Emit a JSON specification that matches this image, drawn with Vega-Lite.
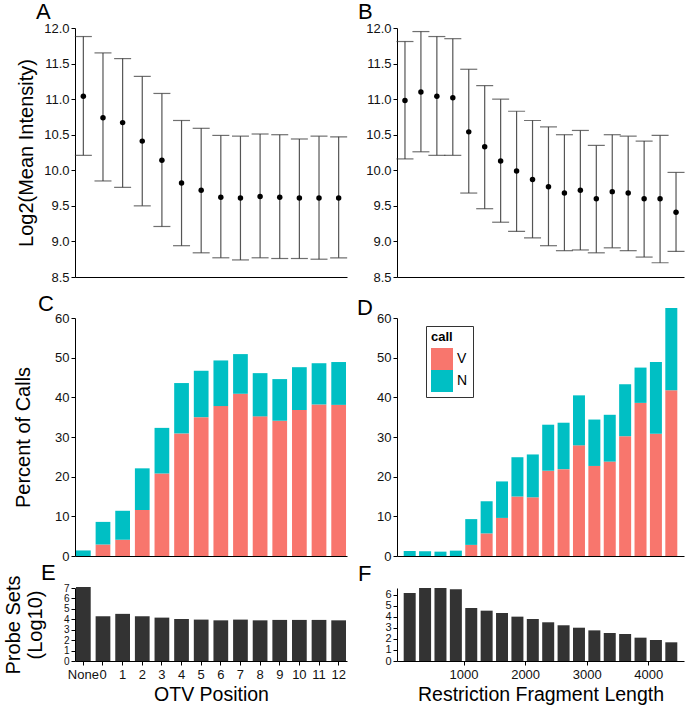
{
  "$schema": "https://vega.github.io/schema/vega-lite/v6.json",
  "padding": {"left": 3, "top": 1, "right": 1, "bottom": 5},
  "background": "white",
  "config": {
    "font": "Liberation Sans",
    "view": {"stroke": null},
    "axis": {"grid": false, "domainColor": "#000", "domainWidth": 1, "tickColor": "#000", "tickSize": 4, "labelFontSize": 13, "labelColor": "#111", "titleFontSize": 20, "titleFontWeight": "normal", "titleColor": "#000", "labelPadding": 2, "labelFlush": false, "labelOverlap": false},
    "title": {"fontSize": 22, "fontWeight": "normal", "anchor": "start", "frame": "group", "color": "#000"}
  },
  "datasets": {
    "A": [
      {"pos": "None", "mean": 11.04, "lo": 10.21, "hi": 11.88},
      {"pos": "0", "mean": 10.74, "lo": 9.85, "hi": 11.65},
      {"pos": "1", "mean": 10.67, "lo": 9.76, "hi": 11.57},
      {"pos": "2", "mean": 10.41, "lo": 9.50, "hi": 11.32},
      {"pos": "3", "mean": 10.14, "lo": 9.21, "hi": 11.08},
      {"pos": "4", "mean": 9.82, "lo": 8.94, "hi": 10.70},
      {"pos": "5", "mean": 9.72, "lo": 8.84, "hi": 10.59},
      {"pos": "6", "mean": 9.62, "lo": 8.77, "hi": 10.49},
      {"pos": "7", "mean": 9.61, "lo": 8.74, "hi": 10.48},
      {"pos": "8", "mean": 9.63, "lo": 8.77, "hi": 10.51},
      {"pos": "9", "mean": 9.62, "lo": 8.76, "hi": 10.50},
      {"pos": "10", "mean": 9.61, "lo": 8.76, "hi": 10.44},
      {"pos": "11", "mean": 9.61, "lo": 8.75, "hi": 10.48},
      {"pos": "12", "mean": 9.61, "lo": 8.77, "hi": 10.47}
    ],
    "B": [
      {"len": 125, "mean": 10.98, "lo": 10.16, "hi": 11.81},
      {"len": 375, "mean": 11.10, "lo": 10.26, "hi": 11.95},
      {"len": 625, "mean": 11.04, "lo": 10.21, "hi": 11.88},
      {"len": 875, "mean": 11.02, "lo": 10.21, "hi": 11.85},
      {"len": 1125, "mean": 10.54, "lo": 9.68, "hi": 11.42},
      {"len": 1375, "mean": 10.33, "lo": 9.46, "hi": 11.19},
      {"len": 1625, "mean": 10.13, "lo": 9.27, "hi": 11.00},
      {"len": 1875, "mean": 9.99, "lo": 9.14, "hi": 10.83},
      {"len": 2125, "mean": 9.87, "lo": 9.05, "hi": 10.70},
      {"len": 2375, "mean": 9.77, "lo": 8.94, "hi": 10.61},
      {"len": 2625, "mean": 9.68, "lo": 8.87, "hi": 10.50},
      {"len": 2875, "mean": 9.72, "lo": 8.88, "hi": 10.56},
      {"len": 3125, "mean": 9.60, "lo": 8.84, "hi": 10.35},
      {"len": 3375, "mean": 9.70, "lo": 8.91, "hi": 10.50},
      {"len": 3625, "mean": 9.68, "lo": 8.87, "hi": 10.48},
      {"len": 3875, "mean": 9.60, "lo": 8.78, "hi": 10.41},
      {"len": 4125, "mean": 9.60, "lo": 8.70, "hi": 10.49},
      {"len": 4375, "mean": 9.41, "lo": 8.86, "hi": 9.97}
    ],
    "C": [
      {"pos": "None", "call": "N", "pct": 1.4},
      {"pos": "0", "call": "V", "pct": 2.9}, {"pos": "0", "call": "N", "pct": 5.7},
      {"pos": "1", "call": "V", "pct": 4.1}, {"pos": "1", "call": "N", "pct": 7.3},
      {"pos": "2", "call": "V", "pct": 11.6}, {"pos": "2", "call": "N", "pct": 10.5},
      {"pos": "3", "call": "V", "pct": 20.8}, {"pos": "3", "call": "N", "pct": 11.5},
      {"pos": "4", "call": "V", "pct": 30.9}, {"pos": "4", "call": "N", "pct": 12.7},
      {"pos": "5", "call": "V", "pct": 35.0}, {"pos": "5", "call": "N", "pct": 11.7},
      {"pos": "6", "call": "V", "pct": 37.8}, {"pos": "6", "call": "N", "pct": 11.5},
      {"pos": "7", "call": "V", "pct": 40.9}, {"pos": "7", "call": "N", "pct": 10.0},
      {"pos": "8", "call": "V", "pct": 35.2}, {"pos": "8", "call": "N", "pct": 10.9},
      {"pos": "9", "call": "V", "pct": 34.1}, {"pos": "9", "call": "N", "pct": 10.5},
      {"pos": "10", "call": "V", "pct": 36.8}, {"pos": "10", "call": "N", "pct": 10.8},
      {"pos": "11", "call": "V", "pct": 38.2}, {"pos": "11", "call": "N", "pct": 10.4},
      {"pos": "12", "call": "V", "pct": 38.1}, {"pos": "12", "call": "N", "pct": 10.8}
    ],
    "D": [
      {"len": 125, "call": "N", "pct": 1.26},
      {"len": 375, "call": "N", "pct": 1.2},
      {"len": 625, "call": "N", "pct": 1.1},
      {"len": 875, "call": "N", "pct": 1.35},
      {"len": 1125, "call": "V", "pct": 2.8}, {"len": 1125, "call": "N", "pct": 6.5},
      {"len": 1375, "call": "V", "pct": 5.7}, {"len": 1375, "call": "N", "pct": 8.1},
      {"len": 1625, "call": "V", "pct": 9.6}, {"len": 1625, "call": "N", "pct": 9.2},
      {"len": 1875, "call": "V", "pct": 15.0}, {"len": 1875, "call": "N", "pct": 9.9},
      {"len": 2125, "call": "V", "pct": 14.8}, {"len": 2125, "call": "N", "pct": 10.8},
      {"len": 2375, "call": "V", "pct": 21.5}, {"len": 2375, "call": "N", "pct": 11.6},
      {"len": 2625, "call": "V", "pct": 21.9}, {"len": 2625, "call": "N", "pct": 11.7},
      {"len": 2875, "call": "V", "pct": 27.9}, {"len": 2875, "call": "N", "pct": 12.6},
      {"len": 3125, "call": "V", "pct": 22.7}, {"len": 3125, "call": "N", "pct": 11.7},
      {"len": 3375, "call": "V", "pct": 23.8}, {"len": 3375, "call": "N", "pct": 11.8},
      {"len": 3625, "call": "V", "pct": 30.2}, {"len": 3625, "call": "N", "pct": 13.1},
      {"len": 3875, "call": "V", "pct": 38.6}, {"len": 3875, "call": "N", "pct": 8.9},
      {"len": 4125, "call": "V", "pct": 30.8}, {"len": 4125, "call": "N", "pct": 18.1},
      {"len": 4375, "call": "V", "pct": 41.8}, {"len": 4375, "call": "N", "pct": 20.7}
    ],
    "E": [
      {"pos": "None", "log": 7.1}, {"pos": "0", "log": 4.29}, {"pos": "1", "log": 4.52},
      {"pos": "2", "log": 4.29}, {"pos": "3", "log": 4.16}, {"pos": "4", "log": 4.03},
      {"pos": "5", "log": 3.97}, {"pos": "6", "log": 3.9}, {"pos": "7", "log": 3.97},
      {"pos": "8", "log": 3.9}, {"pos": "9", "log": 3.94}, {"pos": "10", "log": 3.94},
      {"pos": "11", "log": 3.94}, {"pos": "12", "log": 3.9}
    ],
    "F": [
      {"len": 125, "log": 6.15}, {"len": 375, "log": 6.6}, {"len": 625, "log": 6.6},
      {"len": 875, "log": 6.48}, {"len": 1125, "log": 4.79}, {"len": 1375, "log": 4.55},
      {"len": 1625, "log": 4.34}, {"len": 1875, "log": 4.01}, {"len": 2125, "log": 3.8},
      {"len": 2375, "log": 3.5}, {"len": 2625, "log": 3.23}, {"len": 2875, "log": 3.01},
      {"len": 3125, "log": 2.77}, {"len": 3375, "log": 2.53}, {"len": 3625, "log": 2.44},
      {"len": 3875, "log": 2.11}, {"len": 4125, "log": 1.9}, {"len": 4375, "log": 1.69}
    ]
  },
  "columns": 2,
  "spacing": {"row": 32, "column": 50},
  "bounds": "flush",
  "align": "each",
  "resolve": {"scale": {"color": "independent"}, "legend": {"color": "independent"}},
  "concat": [
    {
      "width": 272, "height": 249,
      "title": {"text": "A", "dx": -39, "offset": -2},
      "data": {"name": "A"},
      "encoding": {
        "x": {"field": "pos", "type": "nominal", "scale": {"domain": ["None","0","1","2","3","4","5","6","7","8","9","10","11","12"], "paddingInner": 0.25, "paddingOuter": 0.05}, "axis": {"labels": false, "ticks": false, "title": null}}
      },
      "layer": [
        {"mark": {"type": "rule", "color": "#555", "strokeWidth": 1.2},
         "encoding": {"y": {"field": "lo", "type": "quantitative", "title": "Log2(Mean Intensity)", "scale": {"domain": [8.5, 12], "nice": false, "zero": false}, "axis": {"values": [8.5, 9.0, 9.5, 10.0, 10.5, 11.0, 11.5, 12.0], "format": ".1f", "titleX": -39, "labelOverlap": false}}, "y2": {"field": "hi"}}},
        {"mark": {"type": "tick", "color": "#333", "thickness": 1.2, "size": 17},
         "encoding": {"y": {"field": "lo", "type": "quantitative", "title": "Log2(Mean Intensity)", "scale": {"domain": [8.5, 12], "nice": false, "zero": false}, "axis": {"values": [8.5, 9.0, 9.5, 10.0, 10.5, 11.0, 11.5, 12.0], "format": ".1f", "titleX": -39, "labelOverlap": false}}}},
        {"mark": {"type": "tick", "color": "#333", "thickness": 1.2, "size": 17},
         "encoding": {"y": {"field": "hi", "type": "quantitative", "title": "Log2(Mean Intensity)", "scale": {"domain": [8.5, 12], "nice": false, "zero": false}, "axis": {"values": [8.5, 9.0, 9.5, 10.0, 10.5, 11.0, 11.5, 12.0], "format": ".1f", "titleX": -39, "labelOverlap": false}}}},
        {"mark": {"type": "point", "filled": true, "color": "#000", "size": 30, "opacity": 1},
         "encoding": {"y": {"field": "mean", "type": "quantitative", "title": "Log2(Mean Intensity)", "scale": {"domain": [8.5, 12], "nice": false, "zero": false}, "axis": {"values": [8.5, 9.0, 9.5, 10.0, 10.5, 11.0, 11.5, 12.0], "format": ".1f", "titleX": -39, "labelOverlap": false}}}}
      ]
    },
    {
      "width": 287, "height": 249,
      "title": {"text": "B", "dx": -39, "offset": -2},
      "data": {"name": "B"},
      "encoding": {
        "x": {"field": "len", "type": "quantitative", "scale": {"domain": [0, 4500], "nice": false, "zero": false}, "axis": {"labels": false, "ticks": false, "title": null}}
      },
      "layer": [
        {"mark": {"type": "rule", "color": "#555", "strokeWidth": 1.2},
         "encoding": {"y": {"field": "lo", "type": "quantitative", "title": null, "scale": {"domain": [8.5, 12], "nice": false, "zero": false}, "axis": {"values": [8.5, 9.0, 9.5, 10.0, 10.5, 11.0, 11.5, 12.0], "format": ".1f", "title": null, "labelOverlap": false}}, "y2": {"field": "hi"}}},
        {"mark": {"type": "tick", "color": "#333", "thickness": 1.2, "size": 17, "orient": "horizontal"},
         "encoding": {"y": {"field": "lo", "type": "quantitative", "title": null, "scale": {"domain": [8.5, 12], "nice": false, "zero": false}, "axis": {"values": [8.5, 9.0, 9.5, 10.0, 10.5, 11.0, 11.5, 12.0], "format": ".1f", "title": null, "labelOverlap": false}}}},
        {"mark": {"type": "tick", "color": "#333", "thickness": 1.2, "size": 17, "orient": "horizontal"},
         "encoding": {"y": {"field": "hi", "type": "quantitative", "title": null, "scale": {"domain": [8.5, 12], "nice": false, "zero": false}, "axis": {"values": [8.5, 9.0, 9.5, 10.0, 10.5, 11.0, 11.5, 12.0], "format": ".1f", "title": null, "labelOverlap": false}}}},
        {"mark": {"type": "point", "filled": true, "color": "#000", "size": 30, "opacity": 1},
         "encoding": {"y": {"field": "mean", "type": "quantitative", "title": null, "scale": {"domain": [8.5, 12], "nice": false, "zero": false}, "axis": {"values": [8.5, 9.0, 9.5, 10.0, 10.5, 11.0, 11.5, 12.0], "format": ".1f", "title": null, "labelOverlap": false}}}}
      ]
    },
    {
      "width": 272, "height": 247,
      "title": {"text": "C", "dx": -37, "offset": -7},
      "data": {"name": "C"},
      "mark": {"type": "bar"},
      "encoding": {
        "x": {"field": "pos", "type": "nominal", "scale": {"domain": ["None","0","1","2","3","4","5","6","7","8","9","10","11","12"], "paddingInner": 0.25, "paddingOuter": 0.05}, "axis": {"labels": false, "ticks": false, "title": null}},
        "y": {"field": "pct", "type": "quantitative", "stack": "zero", "scale": {"domain": [0, 60], "range": [247, 9], "nice": false}, "axis": {"values": [0, 10, 20, 30, 40, 50, 60], "title": "Percent of Calls", "titleX": -42}},
        "color": {"field": "call", "type": "nominal", "scale": {"domain": ["V", "N"], "range": ["#F8766D", "#00BFC4"]}, "legend": null},
        "order": {"field": "call", "sort": "descending"}
      }
    },
    {
      "width": 287, "height": 247,
      "title": {"text": "D", "dx": -40, "offset": -12},
      "data": {"name": "D"},
      "mark": {"type": "bar", "size": 12},
      "encoding": {
        "x": {"field": "len", "type": "quantitative", "scale": {"domain": [0, 4500], "nice": false, "zero": false}, "axis": {"labels": false, "ticks": false, "title": null}},
        "y": {"field": "pct", "type": "quantitative", "stack": "zero", "scale": {"domain": [0, 60], "range": [247, 9], "nice": false}, "axis": {"values": [0, 10, 20, 30, 40, 50, 60], "title": null}},
        "color": {"field": "call", "type": "nominal", "scale": {"domain": ["V", "N"], "range": ["#F8766D", "#00BFC4"]},
          "legend": {"orient": "none", "legendX": 29, "legendY": 17, "title": "call", "titleFontWeight": "bold", "titleFontSize": 13, "titleColor": "#000", "labelFontSize": 14, "labelColor": "#000", "symbolType": "square", "symbolSize": 484, "symbolStrokeWidth": 0, "symbolOpacity": 1, "rowPadding": 0, "strokeColor": "#333", "padding": 5, "titlePadding": 4, "labelOffset": 4, "fillColor": "white"}},
        "order": {"field": "call", "sort": "descending"}
      }
    },
    {
      "width": 272, "height": 73,
      "title": {"text": "E", "dx": -34, "offset": -10},
      "data": {"name": "E"},
      "mark": {"type": "bar", "color": "#333333"},
      "encoding": {
        "x": {"field": "pos", "type": "nominal", "scale": {"domain": ["None","0","1","2","3","4","5","6","7","8","9","10","11","12"], "paddingInner": 0.25, "paddingOuter": 0.05}, "axis": {"title": "OTV Position", "labelAngle": 0, "labelPadding": 3, "titlePadding": 4, "titleFontSize": 19.5}},
        "y": {"field": "log", "type": "quantitative", "scale": {"domain": [0, 7], "nice": false}, "axis": {"values": [0, 1, 2, 3, 4, 5, 6, 7], "labelFontSize": 10, "title": ["Probe Sets", "(Log10)"], "titleX": -52, "titleLineHeight": 22}}
      }
    },
    {
      "width": 287, "height": 73,
      "title": {"text": "F", "dx": -39, "offset": 2},
      "data": {"name": "F"},
      "mark": {"type": "bar", "color": "#333333", "size": 12},
      "encoding": {
        "x": {"field": "len", "type": "quantitative", "scale": {"domain": [0, 4500], "nice": false, "zero": false}, "axis": {"values": [1000, 2000, 3000, 4000], "format": "d", "title": "Restriction Fragment Length", "labelPadding": 3, "titlePadding": 4, "titleFontSize": 19.5}},
        "y": {"field": "log", "type": "quantitative", "scale": {"domain": [0, 6.6], "nice": false}, "axis": {"values": [0, 1, 2, 3, 4, 5, 6], "labelFontSize": 11, "title": null}}
      }
    }
  ]
}
